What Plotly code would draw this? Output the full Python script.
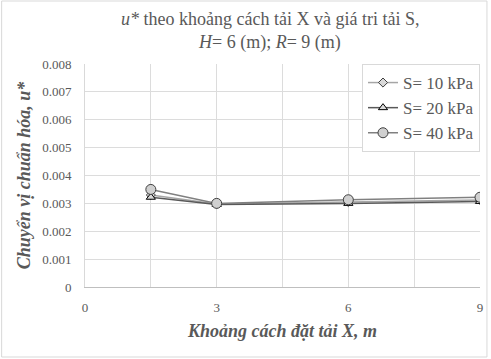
import plotly.graph_objects as go

x_vals = [1.5, 3, 6, 9]
s10 = [0.00330, 0.00298, 0.00305, 0.00312]
s20 = [0.00322, 0.00296, 0.00300, 0.00307]
s40 = [0.00350, 0.00300, 0.00313, 0.00322]
names = ["S= 10 kPa", "S= 20 kPa", "S= 40 kPa"]
x_ticks = [0, 3, 6, 9]
y_ticks = [0, 0.001, 0.002, 0.003, 0.004, 0.005, 0.006, 0.007, 0.008]
title_lines = ["<i>u*</i> theo khoảng cách tải X và giá tri tải S,",
               "<i>H</i>= 6 (m); <i>R</i>= 9 (m)"]

FONT = "Liberation Serif"
TXT = "#595959"

fig = go.Figure()
fig.add_trace(go.Scatter(x=x_vals, y=s10, name=names[0], mode="lines+markers",
                         line=dict(color="#a6a6a6", width=1.5),
                         marker=dict(symbol="diamond", size=7, color="#d9d9d9",
                                     line=dict(color="#404040", width=1))))
fig.add_trace(go.Scatter(x=x_vals, y=s20, name=names[1], mode="lines+markers",
                         line=dict(color="#595959", width=1.5),
                         marker=dict(symbol="triangle-up", size=8, color="#d9d9d9",
                                     line=dict(color="#000000", width=1))))
fig.add_trace(go.Scatter(x=x_vals, y=s40, name=names[2], mode="lines+markers",
                         line=dict(color="#808080", width=1.5),
                         marker=dict(symbol="circle", size=10, color="#d0d0d0",
                                     line=dict(color="#404040", width=1))))

L, R, T, B = 85, 8, 64, 72
W, H = 491, 359
pw, ph = W - L - R, H - T - B

fig.update_layout(
    width=W, height=H,
    margin=dict(l=L, r=R, t=T, b=B),
    paper_bgcolor="white", plot_bgcolor="white",
    font=dict(family=FONT, color=TXT, size=13),
    showlegend=True,
    legend=dict(x=1, xanchor="right", y=1, yanchor="top",
                bgcolor="white", bordercolor="#d9d9d9", borderwidth=1,
                font=dict(family=FONT, size=17, color=TXT),
                tracegroupgap=0, itemwidth=30),
    xaxis=dict(range=[0, 9], tickmode="linear", tick0=0, dtick=1.5,
               labelalias={"1.5": " ", "4.5": " ", "7.5": " "},
               showgrid=True, gridcolor="#dcdcdc", gridwidth=1,
               showline=True, linecolor="#bfbfbf", linewidth=1,
               ticks="", ticklabelstandoff=8, zeroline=False,
               tickfont=dict(family=FONT, size=13, color=TXT),
               title=dict(text="<b><i>Khoảng cách đặt tải X, m</i></b>",
                          font=dict(family=FONT, size=18, color=TXT), standoff=10)),
    yaxis=dict(range=[0, 0.008], tickvals=y_ticks,
               ticktext=["0"] + ["%.3f" % v for v in y_ticks[1:]],
               showgrid=True, gridcolor="#dcdcdc", gridwidth=1,
               showline=True, linecolor="#d9d9d9", zeroline=False, ticks="",
               ticklabelstandoff=10,
               tickfont=dict(family=FONT, size=13, color=TXT),
               title=dict(text="<b><i>Chuyển vị chuẩn hóa, u*</i></b>",
                          font=dict(family=FONT, size=18, color=TXT), standoff=6)),
)

for txt, ypx in zip(title_lines, [19, 43]):
    fig.add_annotation(xref="paper", yref="paper", x=(271 - L) / pw, y=1 + (T - ypx) / ph,
                       xanchor="center", yanchor="middle", showarrow=False,
                       text=txt, font=dict(family=FONT, size=18, color=TXT))

fig.add_shape(type="rect", xref="paper", yref="paper",
              x0=(1 - L) / pw, x1=(W - 1 - L) / pw,
              y0=-(B - 2) / ph, y1=1 + (T - 1) / ph,
              line=dict(color="#d9d9d9", width=1), fillcolor="rgba(0,0,0,0)", layer="below")

fig.write_html("out.html")
